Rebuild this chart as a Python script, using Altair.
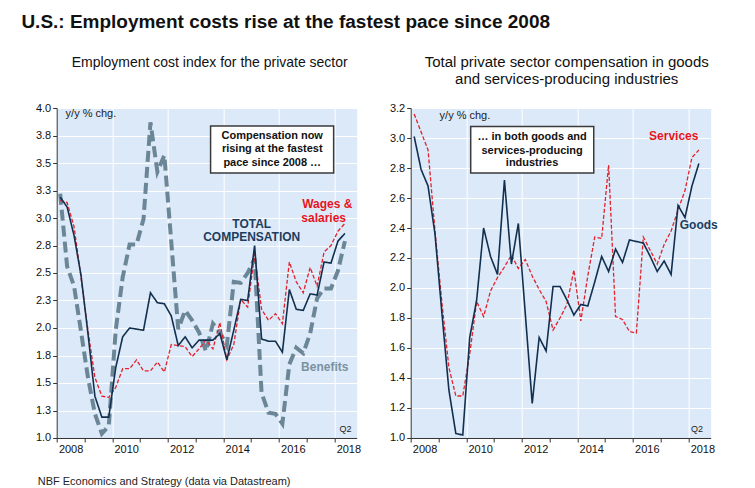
import altair as alt
import pandas as pd

FONT = "Liberation Sans"

# ---------------- data (quarterly, 2008Q1 .. 2018Q2) ----------------
years = list(range(2008, 2019))
quarters = [(y, q) for y in years for q in range(1, 5)][:42]
t = [y + (q - 0.5) / 4 for (y, q) in quarters]

total_comp = [3.19, 3.10, 2.84, 2.48, 1.95, 1.38, 1.19, 1.19, 1.64, 1.92, 2.00, 1.99,
              1.98, 2.32, 2.23, 2.22, 2.11, 1.84, 1.92, 1.82, 1.89, 1.89, 1.89, 1.95,
              1.71, 1.98, 2.26, 2.25, 2.75, 1.90, 1.88, 1.88, 1.78, 2.35, 2.17, 2.16,
              2.31, 2.30, 2.60, 2.59, 2.79, 2.86]
wages = [3.16, 3.14, 2.92, 2.46, 1.98, 1.55, 1.38, 1.37, 1.46, 1.63, 1.63, 1.71,
         1.61, 1.61, 1.69, 1.60, 1.85, 1.84, 1.83, 1.74, 1.81, 1.89, 1.81, 2.05,
         1.71, 1.85, 2.26, 2.19, 2.67, 2.17, 2.07, 2.13, 2.04, 2.60, 2.42, 2.32,
         2.55, 2.38, 2.69, 2.75, 2.88, 2.95]
benefits = [3.22, 2.56, 2.38, 1.97, 1.55, 1.22, 1.04, 1.11, 1.98, 2.46, 2.76, 2.76,
            2.99, 3.87, 3.42, 3.57, 2.78, 1.99, 2.16, 2.07, 1.96, 1.79, 2.04, 1.96,
            1.84, 2.42, 2.41, 2.50, 2.63, 1.41, 1.23, 1.22, 1.13, 1.67, 1.82, 1.77,
            1.95, 2.27, 2.36, 2.36, 2.52, 2.79]
goods = [3.01, 2.79, 2.68, 2.36, 1.83, 1.32, 1.03, 1.02, 1.67, 1.92, 2.40, 2.21,
         2.09, 2.72, 2.16, 2.43, 1.83, 1.23, 1.67, 1.58, 2.01, 2.01, 1.92, 1.82,
         1.89, 1.88, 2.04, 2.21, 2.11, 2.26, 2.17, 2.32, 2.31, 2.30, 2.21, 2.11,
         2.18, 2.09, 2.55, 2.47, 2.68, 2.83]
services = [3.16, 3.04, 2.92, 2.38, 1.90, 1.47, 1.28, 1.28, 1.56, 1.91, 1.81, 1.98,
            2.07, 2.14, 2.22, 2.13, 2.19, 2.08, 1.99, 1.91, 1.72, 1.80, 1.89, 2.12,
            1.78, 2.08, 2.34, 2.33, 2.82, 1.81, 1.79, 1.71, 1.70, 2.34, 2.25, 2.16,
            2.29, 2.38, 2.52, 2.65, 2.87, 2.92]

left_ticks = [1.0, 1.25, 1.5, 1.75, 2.0, 2.25, 2.5, 2.75, 3.0, 3.25, 3.5, 3.75, 4.0]
right_ticks = [1.0, 1.2, 1.4, 1.6, 1.8, 2.0, 2.2, 2.4, 2.6, 2.8, 3.0, 3.2]
x_ticks = years

TITLE = "U.S.: Employment costs rise at the fastest pace since 2008"
LEFT_SUB = ["Employment cost index for the private sector", " "]
RIGHT_SUB = ["Total private sector compensation in goods", "and services-producing industries"]
FOOTER = "NBF Economics and Strategy (data via Datastream)"

NAVY = "#12304e"
NAVY_T = "#1c3d5e"
RED = "#e2222c"
RED_T = "#e8141c"
GRAY = "#6b8696"
GRAY_T = "#7a91a1"
BG = "#dce9f9"

W, H = 300, 330
XDOM = [2008, 2018.8]


def xenc(field="t"):
    return alt.X(
        f"{field}:Q",
        scale=alt.Scale(domain=XDOM, nice=False, zero=False),
        axis=alt.Axis(
            title=None, values=x_ticks,
            labelExpr="datum.value % 2 == 0 ? datum.value : ''",
            labelOffset=13.9, labelFlush=False, labelOverlap=False,
            tickSize=4, grid=True,
            gridOpacity={"condition": {"test": "datum.value % 2 == 0", "value": 1}, "value": 0},
        ),
    )


def yenc(field, dom, ticks):
    return alt.Y(
        f"{field}:Q",
        scale=alt.Scale(domain=dom, nice=False, zero=False),
        axis=alt.Axis(title=None, values=ticks, format=".1f", tickSize=4,
                      grid=True, labelOverlap=False),
    )


def line(values, color, width, dash, dom, ticks):
    df = pd.DataFrame({"t": t, "v": values})
    return alt.Chart(df).mark_line(color=color, strokeWidth=width, strokeDash=dash).encode(
        x=xenc(), y=yenc("v", dom, ticks))


def texts(tt, vv, labels, dom, ticks, **kw):
    df = pd.DataFrame({"t": tt, "v": vv, "label": labels})
    return alt.Chart(df).mark_text(font=FONT, **kw).encode(
        x=xenc(), y=yenc("v", dom, ticks), text="label:N")


def box(t0, t1, v0, v1, dom, ticks):
    df = pd.DataFrame({"t": [t0], "t2": [t1], "v": [v0], "v2": [v1]})
    return alt.Chart(df).mark_rect(fill="white", stroke="#3a3a3a", strokeWidth=1.5).encode(
        x=xenc(), x2="t2", y=yenc("v", dom, ticks), y2="v2")


LD, LT = [1.0, 4.0], left_ticks
RD, RT = [1.0, 3.2], right_ticks

footer = alt.Chart(pd.DataFrame({"label": [FOOTER]})).mark_text(
    font=FONT, fontSize=11, align="left", baseline="alphabetic", color="#222"
).encode(x=alt.value(-19), y=alt.value(377), text="label:N")

left = alt.layer(
    line(benefits, GRAY, 4, [11, 5], LD, LT),
    line(wages, RED, 1.3, [4, 2], LD, LT),
    line(total_comp, NAVY, 1.6, [1, 0], LD, LT),
    box(2013.54, 2017.97, 3.836, 3.409, LD, LT),
    texts([2015.76] * 3, [3.745, 3.623, 3.50],
          ["Compensation now", "rising at the fastest", "pace since 2008 \u2026"], LD, LT,
          fontSize=11, fontWeight="bold", color="#111"),
    texts([2015.02, 2015.02], [2.945, 2.827], ["TOTAL", "COMPENSATION"], LD, LT,
          fontSize=12, fontWeight="bold", color=NAVY_T),
    texts([2017.74, 2017.61], [3.127, 3.0], ["Wages &", "salaries"], LD, LT,
          fontSize=12, fontWeight="bold", color=RED_T),
    texts([2017.65], [1.645], ["Benefits"], LD, LT,
          fontSize=12, fontWeight="bold", color=GRAY_T),
    texts([2018.40], [1.082], ["Q2"], LD, LT, fontSize=9, color="#222"),
    texts([2008.32], [3.945], ["y/y % chg."], LD, LT, fontSize=11, color="#222", align="left"),
    footer,
).properties(
    width=W, height=H,
    title=alt.TitleParams(LEFT_SUB, font=FONT, fontSize=14, fontWeight="normal",
                          anchor="middle", frame="group", dx=3, offset=14.5,
                          lineHeight=18, color="#111"),
)

right = alt.layer(
    line(services, RED, 1.3, [4, 2], RD, RT),
    line(goods, NAVY, 1.6, [1, 0], RD, RT),
    box(2010.16, 2014.59, 3.077, 2.767, RD, RT),
    texts([2012.37] * 3, [3.005, 2.915, 2.831],
          ["\u2026 in both goods and", "services-producing", "industries"], RD, RT,
          fontSize=11, fontWeight="bold", color="#111"),
    texts([2017.47], [3.013], ["Services"], RD, RT, fontSize=12, fontWeight="bold", color=RED_T),
    texts([2018.37], [2.42], ["Goods"], RD, RT, fontSize=12, fontWeight="bold", color=NAVY_T),
    texts([2018.31], [1.06], ["Q2"], RD, RT, fontSize=9, color="#222"),
    texts([2009.04], [3.147], ["y/y % chg."], RD, RT, fontSize=11, color="#222", align="left"),
).properties(
    width=W, height=H,
    title=alt.TitleParams(RIGHT_SUB, font=FONT, fontSize=15, fontWeight="normal",
                          anchor="middle", frame="group", dx=6, offset=14.5,
                          lineHeight=18, color="#111"),
)

chart = alt.hconcat(left, right, spacing=27).properties(
    title=alt.TitleParams(TITLE, font=FONT, fontSize=19, fontWeight="bold", anchor="start",
                          dx=-13.5, offset=22, color="#111"),
    padding={"left": 12.7, "top": 5, "right": 5, "bottom": 0},
).configure_view(
    fill=BG, stroke="transparent"
).configure_axis(
    labelFont=FONT, labelFontSize=11, labelColor="#111", labelPadding=2,
    domainColor="#333", tickColor="#333", gridColor="white", gridWidth=1,
)

chart.save("out.html", embed_options={"renderer": "svg", "actions": False})
